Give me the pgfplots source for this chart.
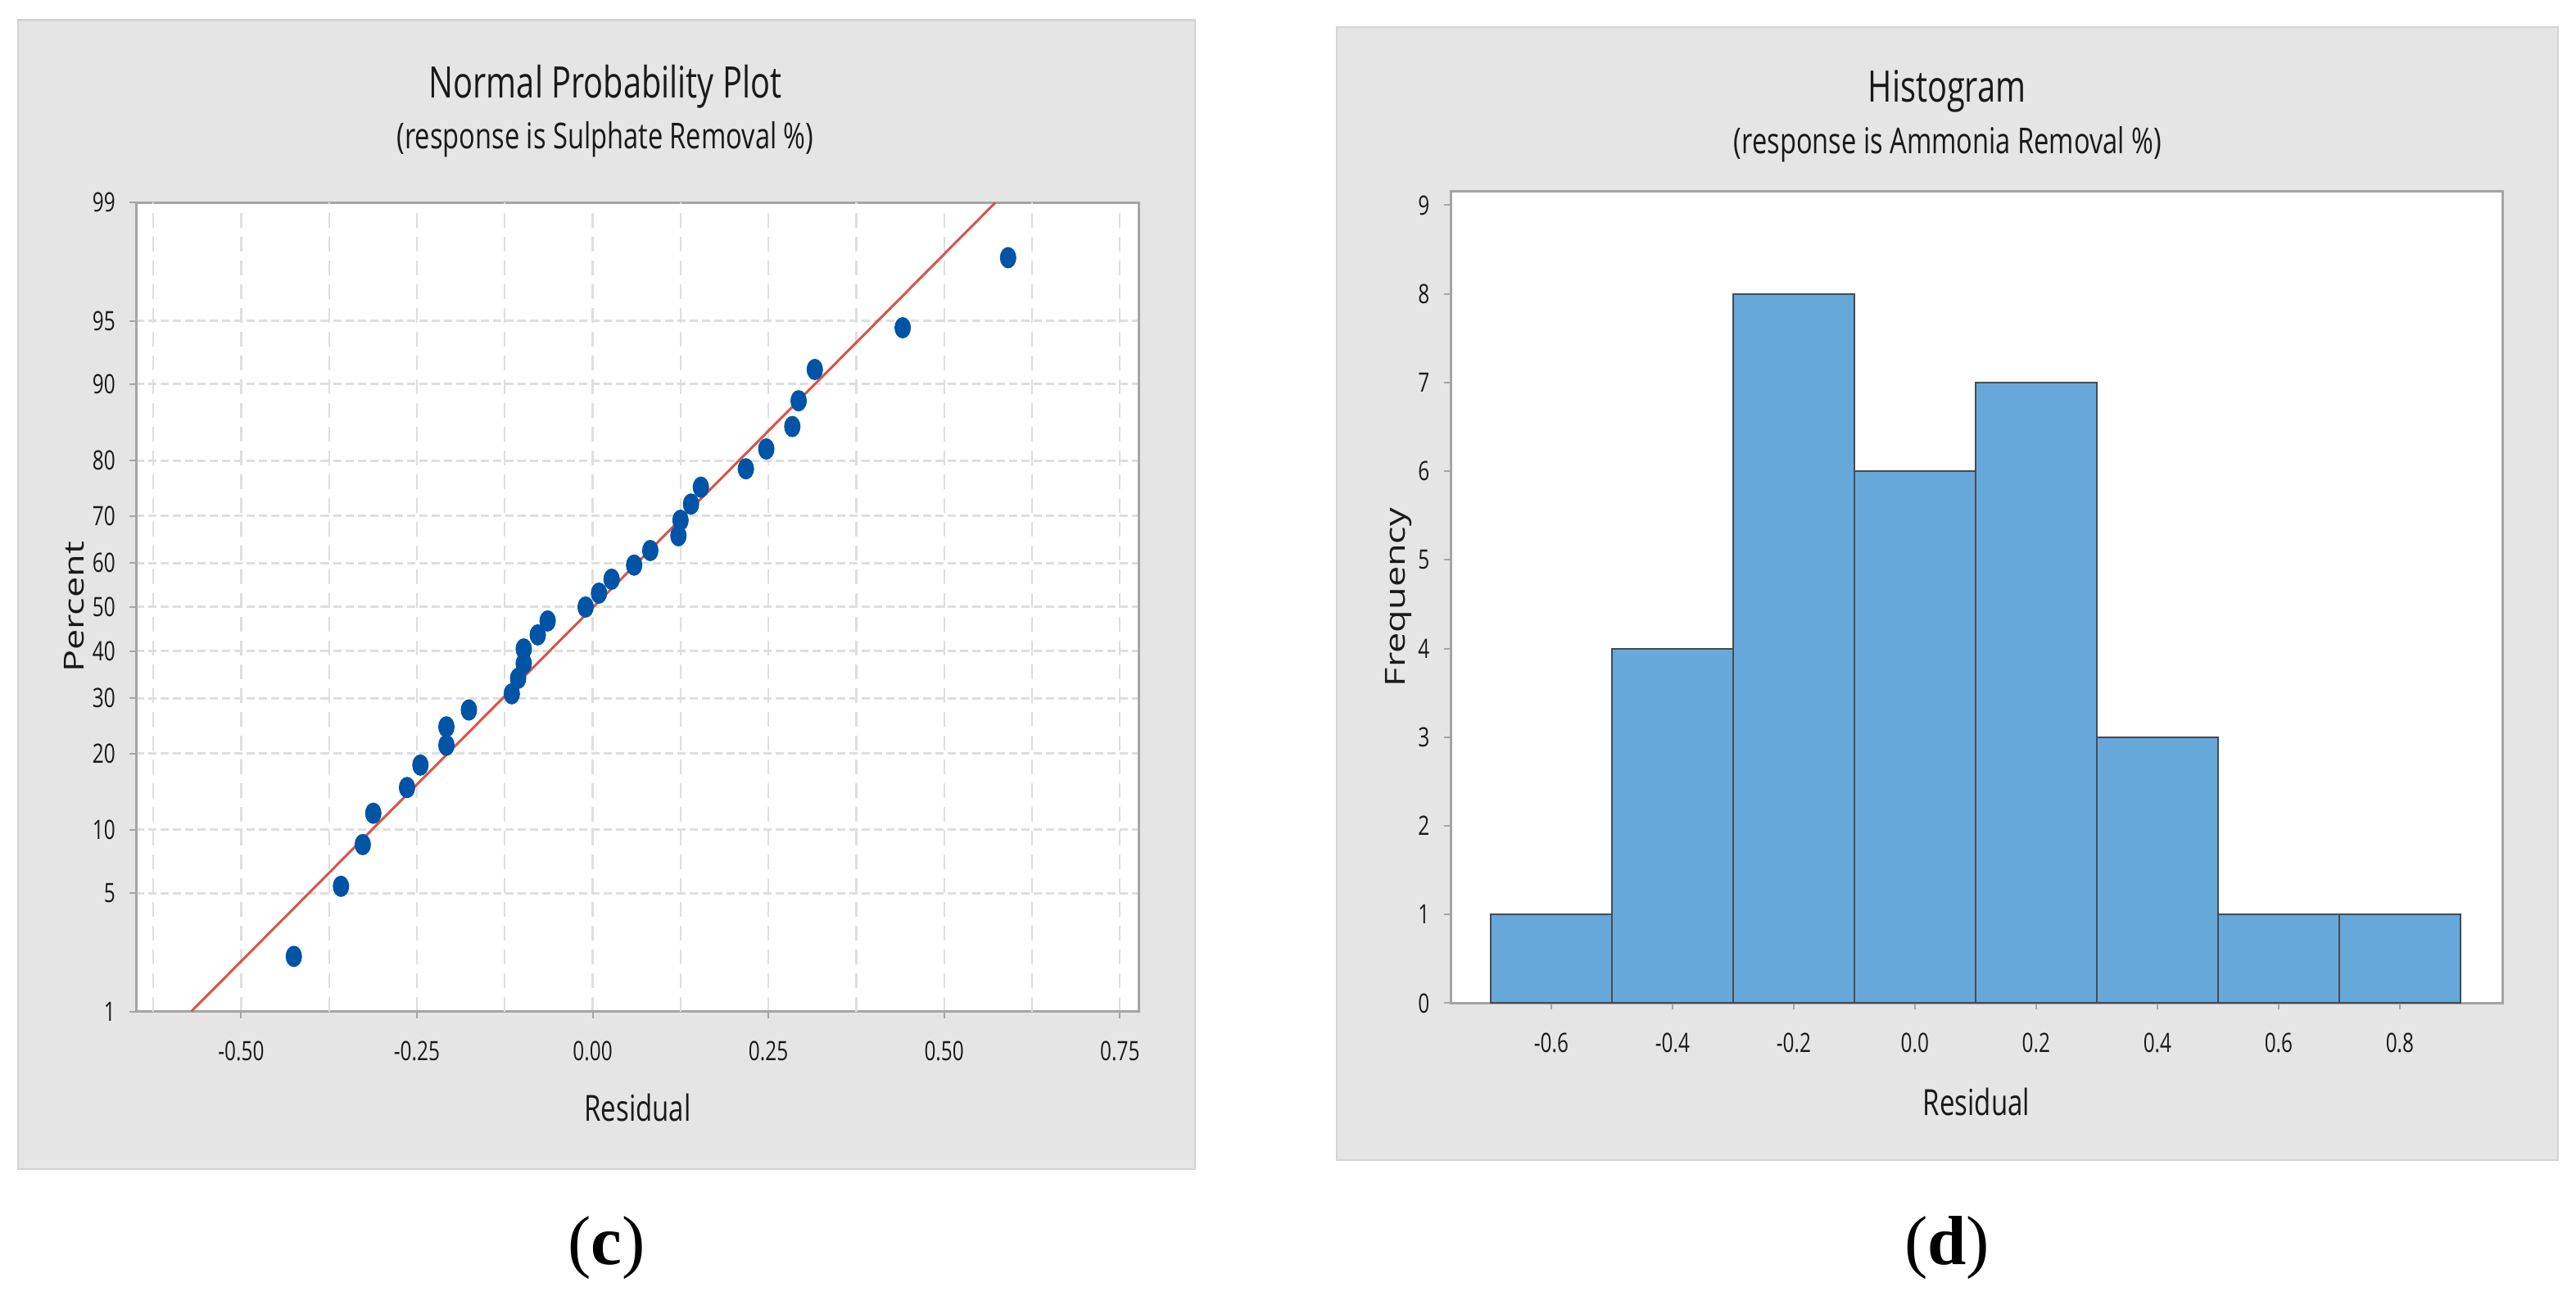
\documentclass[border=0pt]{standalone}
\usepackage{pgfplots}
\pgfplotsset{compat=1.18}
\usepackage{fontspec}
\setmainfont{Open Sans}[FakeStretch=0.75]
\newfontfamily\rotfont{Open Sans}
\newfontfamily\capfont{Liberation Serif}

\definecolor{panel}{RGB}{229,229,229}
\definecolor{paneledge}{RGB}{212,212,212}
\definecolor{framec}{RGB}{165,165,165}
\definecolor{gridc}{RGB}{222,222,222}
\definecolor{dotblue}{RGB}{0,84,166}
\definecolor{fitred}{RGB}{216,84,74}
\definecolor{barblue}{RGB}{103,168,219}
\definecolor{baredge}{RGB}{70,75,80}

\tikzset{vgrid/.style={draw=gridc, line width=0.45pt, dash pattern=on 3.6pt off 2.2pt}}

\pgfplotsset{
  mtb/.style={
    scale only axis,
    axis background/.style={fill=white},
    axis line style={draw=framec, line width=0.6pt},
    tick align=outside,
    xtick pos=bottom, ytick pos=left,
    major tick length=1.6pt, minor tick length=0pt,
    tick style={draw=framec, line width=0.4pt},
    tick label style={font=\fontsize{6.5}{7}\selectfont, text=black!90},
    xticklabel style={yshift=-2.2pt},
    label style={font=\fontsize{8.8}{10}\selectfont, text=black!90},
  },
}

% residuals against normal scores (plotting positions of 31 points)
\pgfplotstableread{
x z
-0.425 -2.009
-0.358 -1.606
-0.327 -1.366
-0.312 -1.186
-0.264 -1.038
-0.245 -0.909
-0.208 -0.795
-0.208 -0.689
-0.176 -0.592
-0.115 -0.499
-0.106 -0.410
-0.098 -0.325
-0.098 -0.241
-0.078 -0.160
-0.064 -0.080
-0.010 0.000
0.009 0.080
0.027 0.160
0.059 0.241
0.082 0.325
0.122 0.410
0.125 0.499
0.140 0.592
0.154 0.689
0.218 0.795
0.247 0.909
0.284 1.038
0.293 1.186
0.316 1.366
0.441 1.606
0.591 2.009
}\probdata

\begin{document}
\begin{tikzpicture}
\path[use as bounding box, fill=white] (0pt,0pt) rectangle (629pt,315.4pt);

% panels
\fill[panel] (4.4pt,30pt) rectangle (291.8pt,310.5pt);
\draw[paneledge, line width=0.5pt] (4.4pt,30pt) rectangle (291.8pt,310.5pt);
\fill[panel] (326.4pt,32.2pt) rectangle (624.6pt,308.8pt);
\draw[paneledge, line width=0.5pt] (326.4pt,32.2pt) rectangle (624.6pt,308.8pt);

% titles
\node[anchor=base, font=\fontsize{10.6}{12}\selectfont, text=black!90] at (147.8pt,291.4pt) {Normal Probability Plot};
\node[anchor=base, font=\fontsize{8.7}{10}\selectfont, text=black!90] at (147.8pt,279pt) {(response is Sulphate Removal \%)};
\node[anchor=base, font=\fontsize{10.6}{12}\selectfont, text=black!90] at (475.4pt,290.4pt) {Histogram};
\node[anchor=base, font=\fontsize{8.7}{10}\selectfont, text=black!90] at (475.6pt,277.8pt) {(response is Ammonia Removal \%)};

% (c) normal probability plot
\begin{axis}[mtb,
  at={(33.3pt,68.46pt)}, anchor=south west,
  width=244.8pt, height=197.5pt,
  xmin=-0.649, xmax=0.777,
  ymin=-2.3263, ymax=2.3263,
  xtick={-0.5,-0.25,0,0.25,0.5,0.75},
  xticklabels={-0.50,-0.25,0.00,0.25,0.50,0.75},
  extra x ticks={-0.625,-0.375,-0.125,0.125,0.375,0.625},
  extra x tick labels={},
  extra x tick style={major tick length=0pt, xmajorgrids=true, major x grid style={vgrid}},
  ytick={-2.3263,-1.6449,-1.2816,-0.8416,-0.5244,-0.2533,0,0.2533,0.5244,0.8416,1.2816,1.6449,2.3263},
  yticklabels={1,5,10,20,30,40,50,60,70,80,90,95,99},
  xmajorgrids, ymajorgrids,
  major x grid style={vgrid},
  major y grid style={draw=gridc, line width=0.6pt, dash pattern=on 2pt off 1pt},
  xlabel={Residual},
  ylabel={\rotfont\fontsize{9}{10}\selectfont\scalebox{1}[0.75]{Percent}},
  xlabel style={at={(axis description cs:0.5,-0.119)}, anchor=center},
  ylabel style={at={(axis description cs:-0.0617,0.5)}, anchor=center},
]
\addplot[fitred, line width=0.6pt] coordinates {(-0.571,-2.3263) (0.573,2.3263)};
\addplot[only marks, mark=*, mark size=2.4pt,
  mark options={xscale=0.75, fill=dotblue, draw=dotblue}] table[x=x, y=z] {\probdata};
\end{axis}

% (d) histogram
\begin{axis}[mtb,
  at={(354.2pt,70.5pt)}, anchor=south west,
  width=256.8pt, height=198.2pt,
  xmin=-0.766, xmax=0.969,
  ymin=0, ymax=9.157,
  xtick={-0.6,-0.4,-0.2,0,0.2,0.4,0.6,0.8},
  xticklabels={-0.6,-0.4,-0.2,0.0,0.2,0.4,0.6,0.8},
  ytick={0,1,2,3,4,5,6,7,8,9},
  yticklabels={0,1,2,3,4,5,6,7,8,9},
  xlabel={Residual},
  ylabel={\rotfont\fontsize{9}{10}\selectfont\scalebox{1}[0.75]{Frequency}},
  xlabel style={at={(axis description cs:0.5,-0.1216)}, anchor=center},
  ylabel style={at={(axis description cs:-0.0498,0.5)}, anchor=center},
]
\addplot[ybar interval, fill=barblue, draw=baredge, line width=0.4pt] coordinates {
  (-0.7,1) (-0.5,4) (-0.3,8) (-0.1,6) (0.1,7) (0.3,3) (0.5,1) (0.7,1) (0.9,1)
};
\end{axis}

% captions
\node[anchor=base, font=\capfont\fontsize{17}{20}\selectfont] at (148.1pt,6.7pt) {(\textbf{c})};
\node[anchor=base, font=\capfont\fontsize{17}{20}\selectfont] at (475.4pt,6.7pt) {(\textbf{d})};
\end{tikzpicture}
\end{document}
